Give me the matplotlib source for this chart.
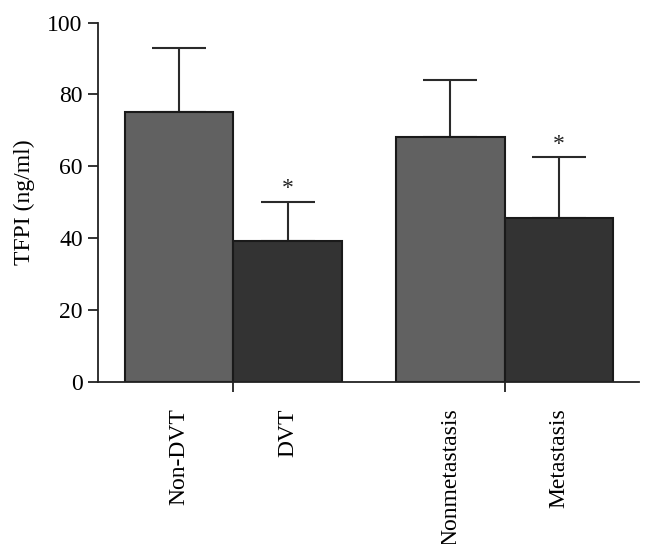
import matplotlib.pyplot as plt

# values
labels = ["Non-DVT", "DVT", "Nonmetastasis", "Metastasis"]
means = [75.0, 39.2, 68.1, 45.5]
errs = [18.0, 10.9, 15.9, 17.0]
stars = ["", "*", "", "*"]
xpos = [0, 1, 2.5, 3.5]
group_ticks = [0.5, 3.0]
colors = ["#616161", "#333333", "#616161", "#333333"]

plt.rcParams['font.family'] = ['Liberation Serif', 'DejaVu Serif']

fig = plt.figure(figsize=(6.53, 5.44), dpi=100)
ax = fig.add_axes([0.150, 0.2983, 0.829, 0.6600])

ax.bar(xpos, means, width=1.0, color=colors, edgecolor="#1a1a1a", linewidth=1.5, zorder=2)
ax.errorbar(xpos, means, yerr=[[0] * 4, errs], fmt="none", ecolor="#2a2a2a",
            elinewidth=1.5, capsize=19.5, capthick=1.5, zorder=1)

for x, m, e, s in zip(xpos, means, errs, stars):
    if s:
        ax.annotate(s, (x, m + e), xytext=(0, 2), textcoords="offset points",
                    ha="center", va="bottom", fontsize=17, color="#222222")

ax.set_xlim(-0.747, 4.24)
ax.set_ylim(0, 100)
ax.set_yticks([0, 20, 40, 60, 80, 100])
ax.tick_params(axis="y", labelsize=17, length=7, width=1.3, color="#222222", pad=4)

ax.set_xticks(group_ticks)
ax.set_xticklabels(["", ""])
ax.tick_params(axis="x", which="major", length=7, width=1.3, color="#222222")
ax.set_xticks(xpos, minor=True)
ax.set_xticklabels(labels, minor=True, rotation=90, fontsize=17, va="top", ha="center")
ax.tick_params(axis="x", which="minor", length=0, pad=19)

ax.set_ylabel("TFPI (ng/ml)", fontsize=17, labelpad=9)

for side in ["top", "right"]:
    ax.spines[side].set_visible(False)
for side in ["left", "bottom"]:
    ax.spines[side].set_linewidth(1.3)
    ax.spines[side].set_color("#222222")

fig.savefig("out.png", dpi=100)
